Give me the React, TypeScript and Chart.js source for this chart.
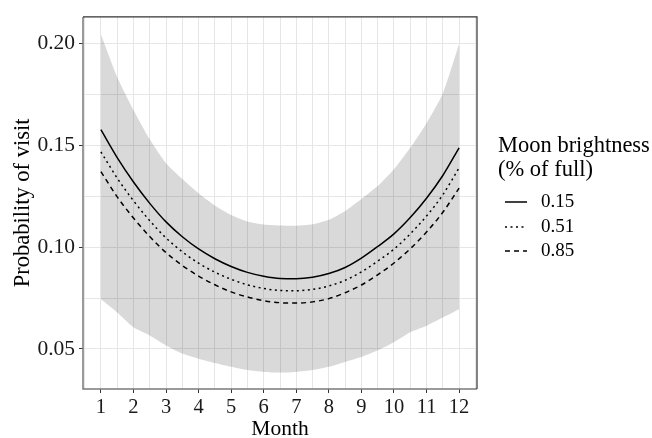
import React, { useEffect, useRef } from "react";
import { Chart, registerables } from "chart.js";

Chart.register(...registerables);

// ---- data ----
const months = [1, 1.5, 2, 2.5, 3, 3.5, 4, 4.5, 5, 5.5, 6, 6.5, 7, 7.5, 8, 8.5, 9, 9.5, 10, 10.5, 11, 11.5, 12];
const brightness015 = [0.1577, 0.144, 0.132, 0.1215, 0.1124, 0.1051, 0.0991, 0.0943, 0.0905, 0.0876, 0.0857, 0.0846, 0.0845, 0.0852, 0.087, 0.09, 0.0946, 0.1003, 0.1065, 0.1145, 0.124, 0.1352, 0.1488];
const brightness051 = [0.1468, 0.1339, 0.1228, 0.113, 0.1045, 0.0977, 0.0921, 0.0877, 0.0842, 0.0815, 0.0797, 0.0787, 0.0786, 0.0792, 0.0809, 0.0837, 0.0878, 0.0931, 0.099, 0.1065, 0.1153, 0.1257, 0.139];
const brightness085 = [0.1371, 0.1247, 0.1143, 0.1052, 0.0973, 0.091, 0.0858, 0.0815, 0.078, 0.0755, 0.0737, 0.0727, 0.0725, 0.0731, 0.0747, 0.0776, 0.0814, 0.0864, 0.0922, 0.0992, 0.1074, 0.1171, 0.129];
const ribbonUpper = [0.2046, 0.1836, 0.1674, 0.153, 0.1412, 0.1335, 0.1265, 0.1205, 0.1158, 0.1126, 0.1111, 0.1106, 0.1105, 0.1112, 0.1134, 0.1178, 0.1237, 0.13, 0.1383, 0.1488, 0.1609, 0.1755, 0.1998];
const ribbonLower = [0.0744, 0.0679, 0.0606, 0.0566, 0.0517, 0.0477, 0.0452, 0.0431, 0.0412, 0.0396, 0.0387, 0.0384, 0.0387, 0.0396, 0.0412, 0.0436, 0.046, 0.0493, 0.0533, 0.0582, 0.0614, 0.0654, 0.0695];

const seriesLabels = ["0.15", "0.51", "0.85"];
const legendTitle = ["Moon brightness", "(% of full)"];
const xTitle = "Month";
const yTitle = "Probability of visit";

const FONT = '"Liberation Serif", "Times New Roman", serif';

const toPts = (ys: number[]) => months.map((m, i) => ({ x: m, y: ys[i] }));
const isMajorY = (v: number) => Math.abs(v * 20 - Math.round(v * 20)) < 1e-6;
const isMajorX = (v: number) => Math.abs(v - Math.round(v)) < 1e-6;

const panelAndLegend = {
  id: "panelAndLegend",
  afterDraw(chart: any) {
    const { ctx, chartArea: a } = chart;
    ctx.save();
    // panel border
    ctx.lineWidth = 1.5;
    ctx.strokeStyle = "#7a7a7a";
    ctx.beginPath();
    ctx.moveTo(a.left, a.top);
    ctx.lineTo(a.left, a.bottom);
    ctx.lineTo(a.right, a.bottom);
    ctx.stroke();
    ctx.strokeStyle = "#333333";
    ctx.lineWidth = 1.2;
    ctx.beginPath();
    ctx.moveTo(a.left, a.top);
    ctx.lineTo(a.right, a.top);
    ctx.lineTo(a.right, a.bottom);
    ctx.stroke();

    // legend
    ctx.fillStyle = "#000";
    ctx.textBaseline = "middle";
    ctx.textAlign = "left";
    ctx.font = `22.5px ${FONT}`;
    ctx.fillText(legendTitle[0], 498, 146);
    ctx.fillText(legendTitle[1], 498, 170);
    const ys = [202, 227, 251];
    const lineDs = chart.data.datasets.slice(2);
    lineDs.forEach((ds: any, i: number) => {
      ctx.save();
      ctx.strokeStyle = ds.borderColor;
      ctx.lineWidth = ds.borderWidth;
      ctx.setLineDash(ds.borderDash || []);
      ctx.beginPath();
      ctx.moveTo(505, ys[i]);
      ctx.lineTo(527, ys[i]);
      ctx.stroke();
      ctx.restore();
      ctx.font = `19px ${FONT}`;
      ctx.fillStyle = "#000";
      ctx.fillText(seriesLabels[i], 541, ys[i]);
    });
    ctx.restore();
  },
};

export default function App() {
  const ref = useRef<HTMLCanvasElement | null>(null);

  useEffect(() => {
    if (!ref.current) return;
    const chart = new Chart(ref.current, {
      type: "line",
      data: {
        datasets: [
          {
            label: "lower",
            data: toPts(ribbonLower),
            borderWidth: 0,
            pointRadius: 0,
            fill: false,
            tension: 0.2,
            borderColor: "rgba(0,0,0,0)",
          },
          {
            label: "upper",
            data: toPts(ribbonUpper),
            borderWidth: 0,
            pointRadius: 0,
            fill: "-1",
            backgroundColor: "rgba(0,0,0,0.15)",
            tension: 0.2,
            borderColor: "rgba(0,0,0,0)",
          },
          {
            label: seriesLabels[0],
            data: toPts(brightness015),
            borderColor: "#000",
            borderWidth: 1.5,
            pointRadius: 0,
            fill: false,
            cubicInterpolationMode: "monotone",
          },
          {
            label: seriesLabels[1],
            data: toPts(brightness051),
            borderColor: "#000",
            borderWidth: 1.5,
            borderDash: [2, 3.5],
            pointRadius: 0,
            fill: false,
            cubicInterpolationMode: "monotone",
          },
          {
            label: seriesLabels[2],
            data: toPts(brightness085),
            borderColor: "#000",
            borderWidth: 1.5,
            borderDash: [5, 4],
            pointRadius: 0,
            fill: false,
            cubicInterpolationMode: "monotone",
          },
        ],
      },
      options: {
        responsive: false,
        animation: false,
        layout: { padding: { left: 0, top: 12.7, right: 175, bottom: 0 } },
        plugins: { legend: { display: false }, tooltip: { enabled: false } },
        scales: {
          x: {
            type: "linear",
            min: 0.45,
            max: 12.55,
            afterFit(scale: any) {
              scale.height = 49;
            },
            border: { display: false },
            grid: {
              color: "#e6e6e6",
              lineWidth: 1,
              tickLength: 4,
              tickColor: (c: any) => (c.tick && isMajorX(c.tick.value) ? "#333333" : "rgba(0,0,0,0)"),
            },
            ticks: {
              stepSize: 0.5,
              includeBounds: false,
              maxTicksLimit: 100,
              autoSkip: false,
              maxRotation: 0,
              padding: 2,
              color: "#1a1a1a",
              font: { family: FONT, size: 20.5 },
              callback: (v: any) => (isMajorX(Number(v)) ? String(Math.round(Number(v))) : ""),
            },
            title: {
              display: true,
              text: xTitle,
              color: "#000",
              font: { family: FONT, size: 21.5 },
              padding: { top: 0, bottom: -3.8 },
            },
          },
          y: {
            type: "linear",
            min: 0.0303,
            max: 0.2131,
            afterFit(scale: any) {
              scale.width = 83;
            },
            border: { display: false },
            grid: {
              color: "#e6e6e6",
              lineWidth: 1,
              tickLength: 4,
              tickColor: (c: any) => (c.tick && isMajorY(c.tick.value) ? "#333333" : "rgba(0,0,0,0)"),
            },
            ticks: {
              stepSize: 0.025,
              includeBounds: false,
              maxTicksLimit: 100,
              autoSkip: false,
              padding: 4,
              color: "#1a1a1a",
              font: { family: FONT, size: 21.5 },
              callback: (v: any) => (isMajorY(Number(v)) ? Number(v).toFixed(2) : ""),
            },
            title: {
              display: true,
              text: yTitle,
              color: "#000",
              font: { family: FONT, size: 22.5 },
              padding: { top: 9.5, bottom: 0 },
            },
          },
        },
      },
      plugins: [panelAndLegend],
    } as any);
    return () => chart.destroy();
  }, []);

  return (
    <div style={{ position: "absolute", left: 0, top: 0, width: 652, height: 438, background: "#fff" }}>
      <canvas ref={ref} width={652} height={438} style={{ display: "block" }} />
    </div>
  );
}
